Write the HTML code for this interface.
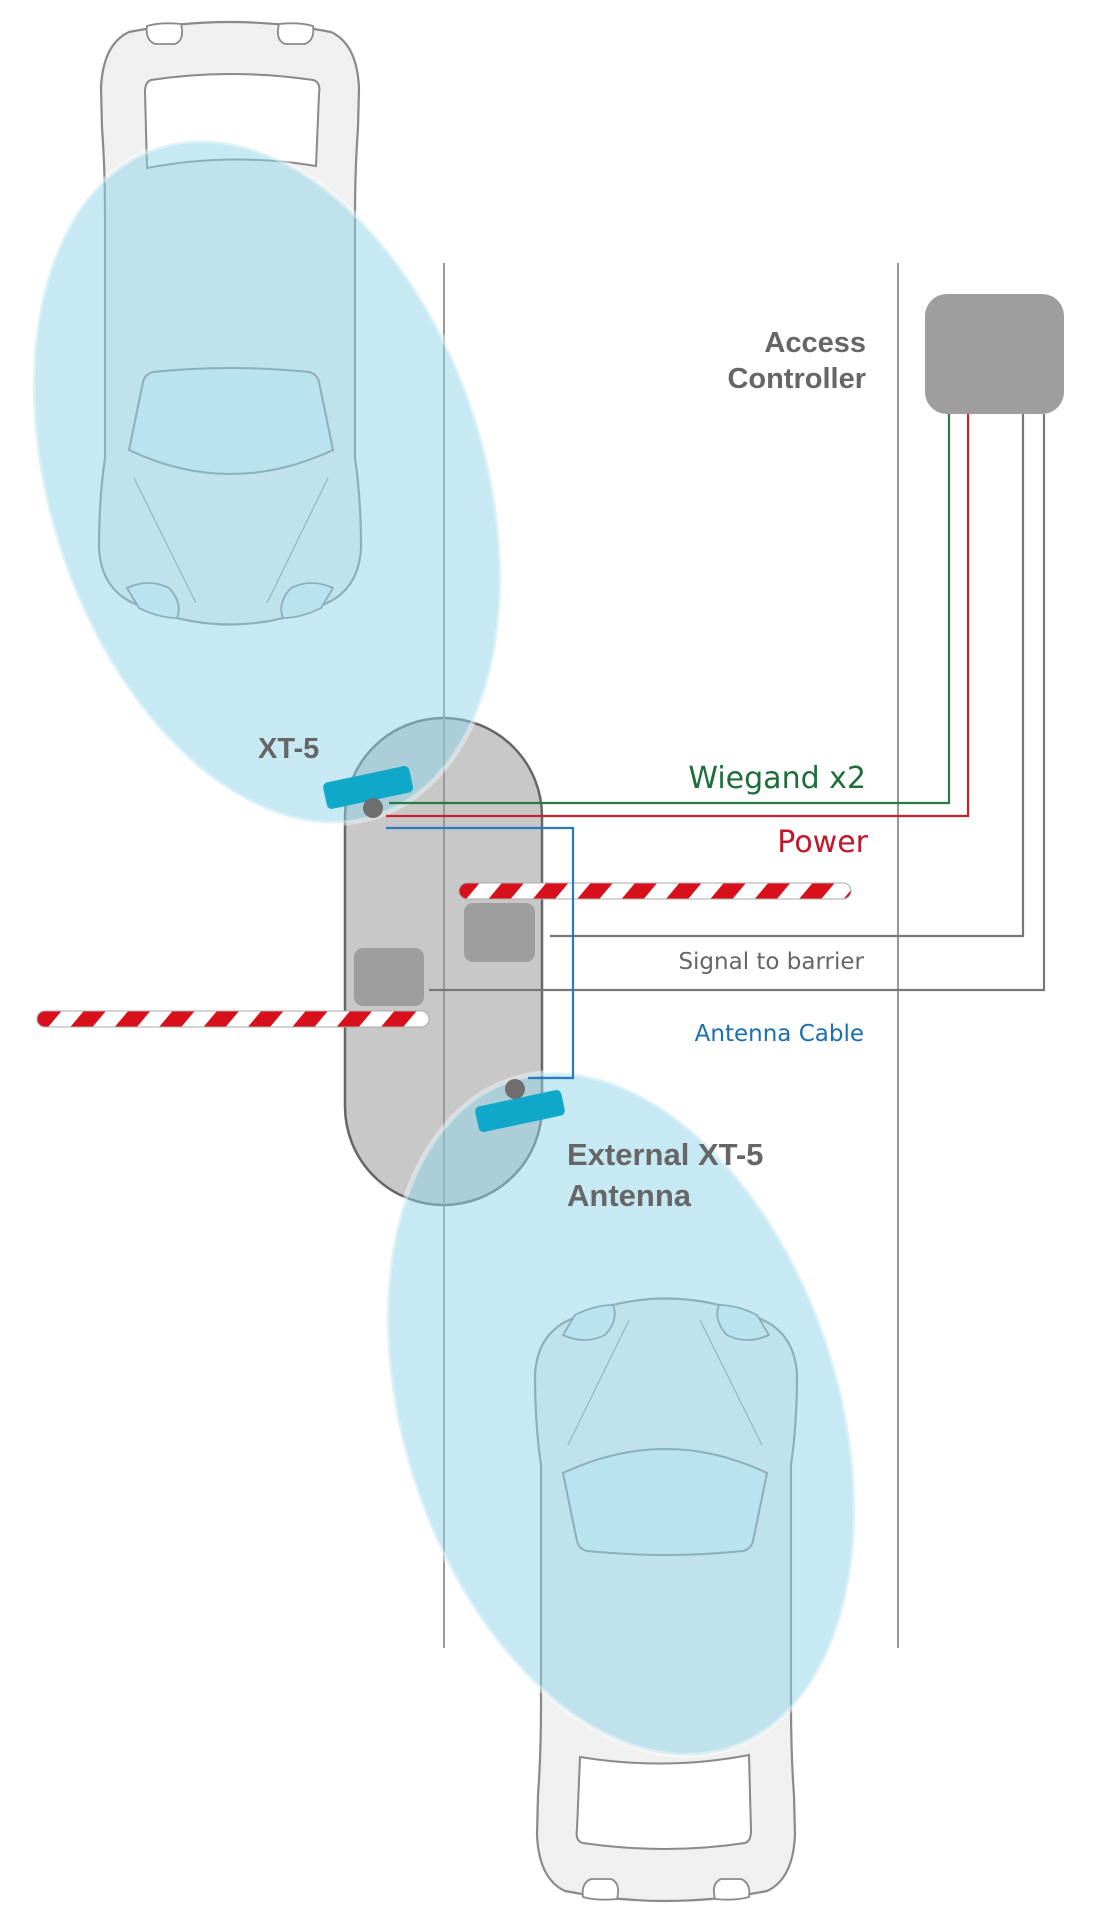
<!DOCTYPE html>
<html><head><meta charset="utf-8"><style>
html,body{margin:0;padding:0;background:#fff}
svg{display:block}
</style></head><body>
<svg width="1099" height="1920" viewBox="0 0 1099 1920" xmlns="http://www.w3.org/2000/svg">
<defs>
<pattern id="stripe" patternUnits="userSpaceOnUse" width="34" height="34" patternTransform="rotate(40)">
<rect width="34" height="34" fill="#fff"/><rect width="17" height="34" fill="#d8101c"/>
</pattern>
<g id="car">
<path d="M30 14 Q131 -6 232 14 Q258 26 260 70 L259 110 Q256 150 256 200 L256 440 Q262 480 262 530 Q260 570 228 585 Q131 628 34 585 Q2 570 0 530 Q0 480 6 440 L6 200 Q6 150 3 110 L2 70 Q4 26 30 14 Z" fill="#f0f0f1" stroke="#8a8a8a" stroke-width="2.2"/>
<path d="M52 62 Q131 50 214 62 Q222 64 220 76 L217 148 Q131 134 48 150 L46 74 Q46 64 52 62 Z" fill="#fff" stroke="#8a8a8a" stroke-width="2"/>
<path d="M48 8 Q62 4 82 6 Q86 22 76 26 L56 26 Q46 22 48 8 Z" fill="#fff" stroke="#8a8a8a" stroke-width="1.8"/>
<path d="M214 8 Q200 4 180 6 Q176 22 186 26 L206 26 Q216 22 214 8 Z" fill="#fff" stroke="#8a8a8a" stroke-width="1.8"/>
<path d="M54 354 Q131 346 210 354 Q218 356 220 364 L234 432 Q131 480 30 432 L44 364 Q46 356 54 354 Z" fill="#e4f3f9" stroke="#8a8a8a" stroke-width="2"/>
<line x1="35" y1="460" x2="97" y2="585" stroke="#9a9a9a" stroke-width="1.2"/>
<line x1="229" y1="460" x2="168" y2="585" stroke="#9a9a9a" stroke-width="1.2"/>
<path d="M28 570 Q50 560 70 570 Q84 585 78 600 Q60 600 40 590 Z" fill="#e4f3f9" stroke="#8a8a8a" stroke-width="1.8"/>
<path d="M234 570 Q212 560 192 570 Q178 585 184 600 Q202 600 222 590 Z" fill="#e4f3f9" stroke="#8a8a8a" stroke-width="1.8"/>
</g>
</defs>

<line x1="444" y1="263" x2="444" y2="1648" stroke="#999" stroke-width="2"/>
<line x1="898" y1="263" x2="898" y2="1648" stroke="#999" stroke-width="2"/>

<use href="#car" transform="translate(99,18)"/>
<use href="#car" transform="translate(797,1905) rotate(180)"/>

<rect x="345" y="718" width="197" height="487" rx="98.5" fill="#c8c8c8" stroke="#666" stroke-width="2.5"/>
<line x1="444" y1="718" x2="444" y2="1205" stroke="#999" stroke-width="2"/>

<rect x="459" y="883" width="392" height="16" rx="8" fill="url(#stripe)" stroke="#aaa" stroke-width="1"/>
<rect x="464" y="903" width="71" height="59" rx="9" fill="#9e9e9e"/>
<rect x="354" y="948" width="70" height="58" rx="9" fill="#9e9e9e"/>
<rect x="37" y="1011" width="392" height="16" rx="8" fill="url(#stripe)" stroke="#aaa" stroke-width="1"/>

<ellipse cx="267" cy="482" rx="218" ry="352" transform="rotate(-18 267 482)" fill="#8fd3e8" fill-opacity="0.5" stroke="#fff" stroke-opacity="0.4" stroke-width="5"/>
<ellipse cx="621" cy="1414" rx="218" ry="352" transform="rotate(-18 621 1414)" fill="#8fd3e8" fill-opacity="0.5" stroke="#fff" stroke-opacity="0.4" stroke-width="5"/>

<rect x="925" y="294" width="139" height="120" rx="22" fill="#9e9e9e"/>

<polyline points="389,803 949,803 949,414" fill="none" stroke="#2a7a45" stroke-width="2.2"/>
<polyline points="386,816 968,816 968,414" fill="none" stroke="#c8202e" stroke-width="2.2"/>
<polyline points="550,936 1023,936 1023,414" fill="none" stroke="#777" stroke-width="2.2"/>
<polyline points="429,990 1044,990 1044,414" fill="none" stroke="#777" stroke-width="2.2"/>
<polyline points="386,828 573,828 573,1078 528,1078" fill="none" stroke="#2a7abf" stroke-width="2.2"/>

<rect x="324" y="774" width="88" height="27" rx="5" fill="#10a8c8" transform="rotate(-12 368 787)"/>
<circle cx="373" cy="808" r="10" fill="#6e6e6e"/>
<rect x="476" y="1098" width="88" height="26" rx="5" fill="#10a8c8" transform="rotate(-12 520 1111)"/>
<circle cx="515" cy="1089" r="10" fill="#6e6e6e"/>

<g font-family="Liberation Sans, Arial, sans-serif" font-weight="bold" fill="#666">
<text x="866" y="352" font-size="29" text-anchor="end">Access</text>
<text x="866" y="388" font-size="29" text-anchor="end">Controller</text>
<text x="258" y="758" font-size="29">XT-5</text>
<text x="567" y="1165" font-size="31">External XT-5</text>
<text x="567" y="1206" font-size="31">Antenna</text>
</g>
<g font-family="DejaVu Sans, Liberation Sans, sans-serif" text-anchor="end">
<text x="866" y="788" font-size="30" fill="#1e6e3c">Wiegand x2</text>
<text x="868" y="852" font-size="30" fill="#c0182a">Power</text>
<text x="864" y="969" font-size="23" fill="#666">Signal to barrier</text>
<text x="864" y="1041" font-size="23" fill="#1a6fb0">Antenna Cable</text>
</g>
</svg>
</body></html>
